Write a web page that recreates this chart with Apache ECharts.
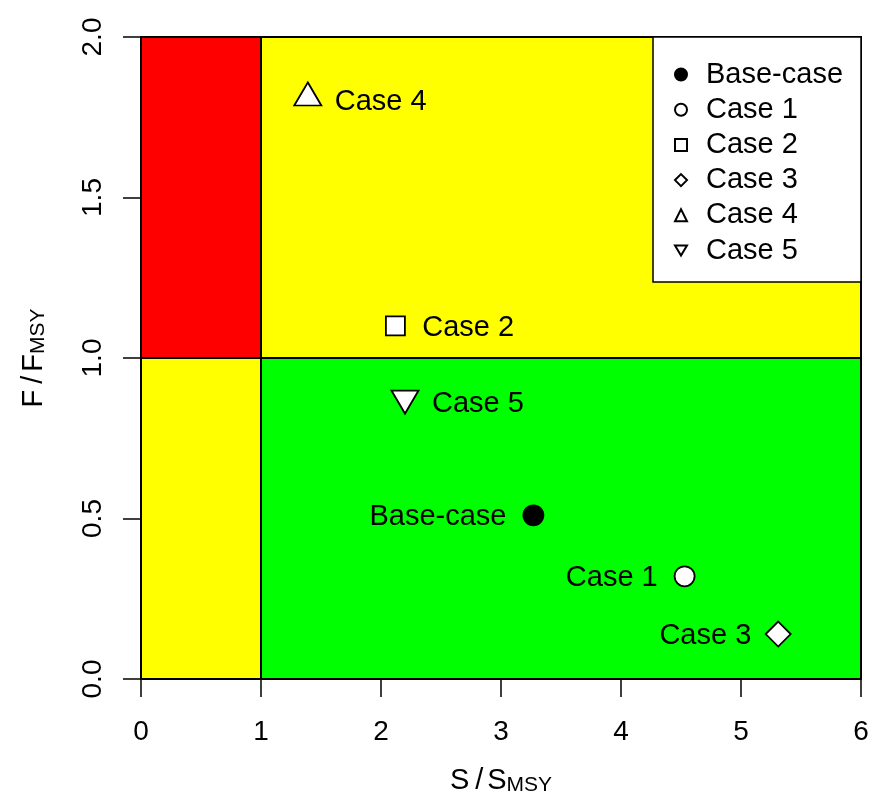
<!DOCTYPE html>
<html>
<head>
<meta charset="utf-8">
<script src="https://cdn.jsdelivr.net/npm/echarts@6/dist/echarts.min.js"></script>
<style>
  html, body { margin: 0; padding: 0; background: #fff; }
  #chart { width: 873px; height: 801px; }
</style>
</head>
<body>
<div id="chart"></div>
<script>
// data
const caseNames = ['Base-case', 'Case 1', 'Case 2', 'Case 3', 'Case 4', 'Case 5'];
const sValues = [3.27, 4.53, 2.12, 5.31, 1.39, 2.20];
const fValues = [0.51, 0.32, 1.10, 0.14, 1.81, 0.875];
const xTicks = [0, 1, 2, 3, 4, 5, 6];
const yTicks = ['0.0', '0.5', '1.0', '1.5', '2.0'];
// zones: [sFrom, fFrom, sTo, fTo]
const zones = [[0, 1, 1, 2], [1, 1, 6, 2], [0, 0, 1, 1], [1, 0, 6, 1]];

// styles
const zoneColors = ['#ff0000', '#ffff00', '#ffff00', '#00ff00'];
const symbols = ['circle', 'circle', 'rect', 'diamond', 'triangle', 'path://M0,0L2,0L1,1.7Z'];
const symbolSizes = [20, 20, 19, 25, [27, 23], [27, 23]];
const symbolOffsets = [[0, 0], [0, 0], [0, 0], [0, 0], [0, -4], [0, 4]];
const fills = ['#000', '#fff', '#fff', '#fff', '#fff', '#fff'];
const labelSides = ['left', 'left', 'right', 'left', 'right', 'right'];
const labelDy = [2, 2, 2, 2, 8, 2];
const FONT = 'Liberation Sans, Arial, sans-serif';

const zoneSeries = {
  type: 'custom',
  silent: true,
  z: 1,
  data: zones,
  encode: { x: [0, 2], y: [1, 3] },
  renderItem: (params, api) => {
    const p0 = api.coord([api.value(0), api.value(3)]);
    const p1 = api.coord([api.value(2), api.value(1)]);
    return {
      type: 'rect',
      shape: { x: p0[0], y: p0[1], width: p1[0] - p0[0], height: p1[1] - p0[1] },
      style: { fill: zoneColors[params.dataIndex], stroke: '#000', lineWidth: 2 }
    };
  }
};

const caseSeries = caseNames.map((name, i) => {
  const half = (Array.isArray(symbolSizes[i]) ? symbolSizes[i][0] : symbolSizes[i]) / 2;
  return {
    name: name,
    type: 'scatter',
    z: 3,
    symbol: symbols[i],
    symbolSize: symbolSizes[i],
    symbolOffset: symbolOffsets[i],
    itemStyle: { color: fills[i], borderColor: '#000', borderWidth: 1.8, opacity: 1 },
    label: {
      show: true,
      formatter: name,
      position: labelSides[i],
      distance: 26 - half,
      offset: [0, labelDy[i]],
      color: '#000',
      fontSize: 29,
      fontFamily: FONT
    },
    emphasis: { disabled: true },
    data: [[sValues[i], fValues[i]]]
  };
});

const option = {
  animation: false,
  backgroundColor: '#fff',
  textStyle: { fontFamily: FONT },
  grid: { left: 141, right: 12, top: 37, bottom: 122, containLabel: false, outerBoundsMode: 'none' },
  legend: {
    data: caseNames,
    orient: 'vertical',
    left: 653,
    top: 37,
    backgroundColor: '#fff',
    borderColor: '#000',
    borderWidth: 1.5,
    borderRadius: 0,
    padding: [23, 15, 17, 21],
    itemWidth: 12,
    itemHeight: 12,
    itemGap: 6.2,
    selectedMode: false,
    textStyle: { fontSize: 29, lineHeight: 29, color: '#000', width: 140, padding: [0, 0, 0, 14], fontFamily: FONT }
  },
  xAxis: {
    type: 'value',
    min: 0,
    max: 6,
    interval: 1,
    name: '{a|S}{sl|/}{a|S}{b|MSY}',
    nameLocation: 'middle',
    nameGap: 86,
    nameMoveOverlap: false,
    nameTextStyle: {
      rich: {
        a: { fontSize: 29, fontFamily: FONT, color: '#000' },
        sl: { fontSize: 29, fontFamily: FONT, color: '#000', padding: [0, 4, 0, 6] },
        b: { fontSize: 21, fontFamily: FONT, color: '#000', padding: [10, 0, 0, 0] }
      }
    },
    axisLine: { show: true, onZero: false, lineStyle: { color: '#000', width: 1.5 } },
    axisTick: { show: true, length: 18, lineStyle: { color: '#000', width: 1.5 } },
    axisLabel: {
      margin: 39,
      fontSize: 28,
      color: '#000',
      fontFamily: FONT,
      formatter: v => String(xTicks[Math.round(v)])
    },
    splitLine: { show: false }
  },
  yAxis: {
    type: 'value',
    min: 0,
    max: 2,
    interval: 0.5,
    name: '{a|F}{sl|/}{a|F}{b|MSY}',
    nameLocation: 'middle',
    nameGap: 92,
    nameRotate: 90,
    nameMoveOverlap: false,
    nameTextStyle: {
      rich: {
        a: { fontSize: 29, fontFamily: FONT, color: '#000' },
        sl: { fontSize: 29, fontFamily: FONT, color: '#000', padding: [0, 4, 0, 6] },
        b: { fontSize: 21, fontFamily: FONT, color: '#000', padding: [10, 0, 0, 0] }
      }
    },
    axisLine: { show: true, onZero: false, lineStyle: { color: '#000', width: 1.5 } },
    axisTick: { show: true, length: 18, lineStyle: { color: '#000', width: 1.5 } },
    axisLabel: {
      rotate: 90,
      margin: 34,
      fontSize: 28,
      color: '#000',
      fontFamily: FONT,
      formatter: v => yTicks[Math.round(v * 2)]
    },
    splitLine: { show: false }
  },
  series: [zoneSeries].concat(caseSeries)
};

const myChart = echarts.init(document.getElementById('chart'));
myChart.setOption(option);
</script>
</body>
</html>
